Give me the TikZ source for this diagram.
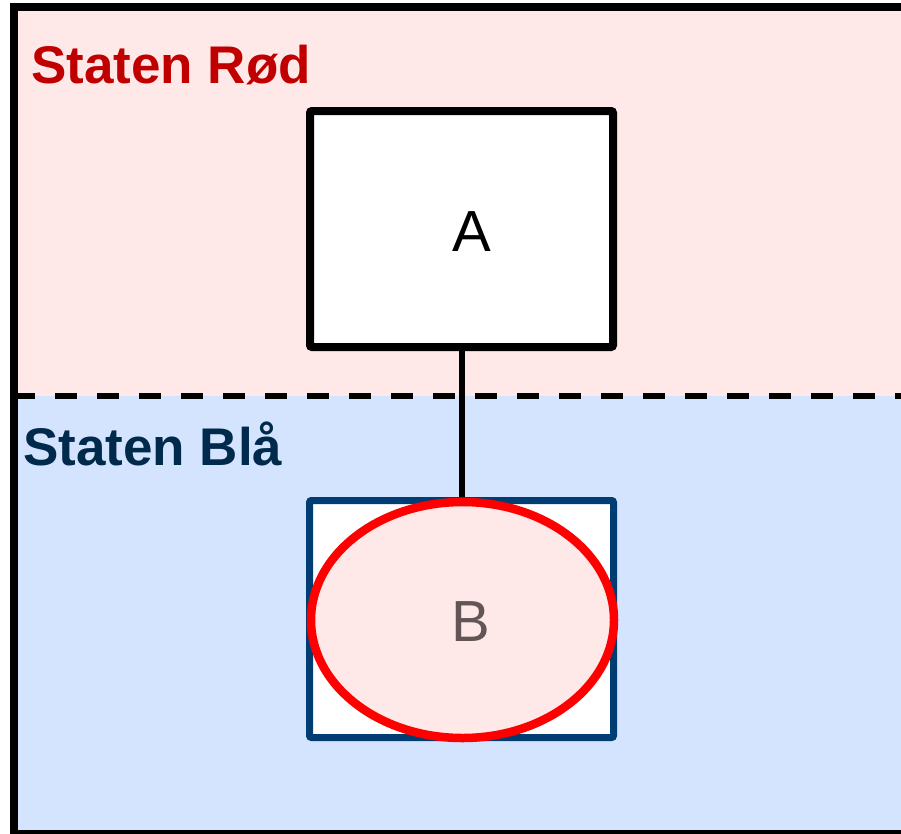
\documentclass[tikz,border=0pt]{standalone}
\usepackage{fontspec}
\setmainfont{Liberation Sans}
\usetikzlibrary{shapes.geometric}
\definecolor{pinkbg}{HTML}{FFE8E8}
\definecolor{bluebg}{HTML}{D4E3FE}
\definecolor{redtxt}{HTML}{C00000}
\definecolor{navytxt}{HTML}{002A4C}
\definecolor{navybox}{HTML}{003D73}
\definecolor{btxt}{HTML}{615555}
\definecolor{redline}{HTML}{FF0000}
\begin{document}
\begin{tikzpicture}[x=1pt,y=-1pt,
  region/.style={font=\bfseries\fontsize{53}{61}\selectfont, anchor=base west, inner sep=0pt},
  letter/.style={font=\fontsize{58}{66}\selectfont, inner sep=0pt},
  abox/.style={draw=black, fill=white, line width=8pt, rounded corners=2pt, minimum width=303pt, minimum height=236pt, inner sep=0pt},
  bbox/.style={draw=navybox, fill=white, line width=7pt, rounded corners=2pt, minimum width=304pt, minimum height=237pt, inner sep=0pt},
  bell/.style={ellipse, draw=redline, fill=pinkbg, line width=8.5pt, minimum width=303pt, minimum height=236pt, inner sep=0pt},
  link/.style={draw=black, line width=6pt}]
\useasboundingbox (0,0) rectangle (901,833);
\begin{scope}
\clip (0,0) rectangle (901,833);
\fill[pinkbg] (14,7) rectangle (910,395.5);
\fill[bluebg] (14,395.5) rectangle (910,838);
\draw[line width=6pt, dash pattern=on 22pt off 20pt] (13,395.5) -- (910,395.5);
\draw[line width=8pt] (910,7) -- (14,7) -- (14,834) -- (910,834);
\end{scope}
\node[region, text=redtxt] (rod) at (31,83) {Staten Rød};
\node[region, text=navytxt] (bla) at (23,465) {Staten Blå};
\node[abox, label={[letter, xshift=10pt, yshift=-3pt]center:A}] (A) at (461.5,229) {};
\node[bbox] (Bbox) at (461.5,619) {};
\draw[link] (A) -- (Bbox);
\node[bell, label={[letter, text=btxt, xshift=8pt, yshift=-2pt]center:B}] (B) at (462.5,620) {};
\end{tikzpicture}
\end{document}
